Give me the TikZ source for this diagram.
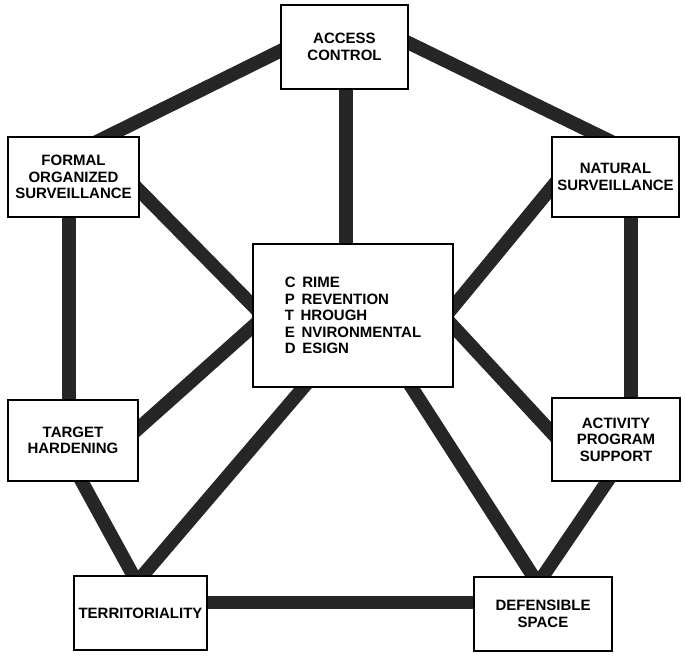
\documentclass[tikz,border=0pt]{standalone}
\usepackage{fontspec}
\setmainfont{Liberation Sans}
\usetikzlibrary{backgrounds}
\definecolor{barcol}{RGB}{38,38,38}
\tikzset{
  box/.style={draw=black, line width=1.8pt, fill=white, inner sep=0pt,
    align=center, font=\fontsize{15}{16.5}\selectfont\bfseries},
  bar/.style={draw=barcol, line width=13.5pt, shorten <=-14pt, shorten >=-14pt}
}
\begin{document}
\begin{tikzpicture}[x=1pt,y=-1pt]
\useasboundingbox (0,0) rectangle (685,657);
\node[box, minimum width=127pt, minimum height=84pt] (acc) at (344.5,47) {ACCESS\\CONTROL};
\node[box, minimum width=131pt, minimum height=80pt] (fos) at (73.5,177) {FORMAL\\ORGANIZED\\SURVEILLANCE};
\node[box, minimum width=127pt, minimum height=80pt] (nat) at (615.5,177) {NATURAL\\SURVEILLANCE};
\node[box, minimum width=200pt, minimum height=143pt, align=left] (cpt) at (353,315.5)
  {C\hspace{0.45em}RIME\\P\hspace{0.45em}REVENTION\\T\hspace{0.45em}HROUGH\\E\hspace{0.45em}NVIRONMENTAL\\D\hspace{0.45em}ESIGN};
\node[box, minimum width=130pt, minimum height=81pt] (tgt) at (73,440.5) {TARGET\\HARDENING};
\node[box, minimum width=128pt, minimum height=83pt] (act) at (616,439.5) {ACTIVITY\\PROGRAM\\SUPPORT};
\node[box, minimum width=133pt, minimum height=74pt] (ter) at (140.5,613) {TERRITORIALITY};
\node[box, minimum width=138pt, minimum height=74pt] (def) at (543,614) {DEFENSIBLE\\SPACE};
\begin{scope}[on background layer]
\draw[bar] ([yshift=-4pt]acc.west) -- ([xshift=34.5pt]fos.north);
\draw[bar] ([yshift=4pt]acc.east) -- ([xshift=-15.5pt]nat.north);
\draw[bar] ([xshift=1.5pt]acc.south) -- ([xshift=-7pt]cpt.north);
\draw[bar] ([yshift=-14pt]fos.east) -- ([yshift=10.5pt]cpt.west);
\draw[bar] ([yshift=-11pt]nat.west) -- ([yshift=9.5pt]cpt.east);
\draw[bar] ([yshift=-11.5pt]cpt.west) -- ([yshift=12.5pt]tgt.east);
\draw[bar] ([yshift=-11.5pt]cpt.east) -- ([yshift=7.5pt]act.west);
\draw[bar] ([xshift=-4.5pt]fos.south) -- ([xshift=-4pt]tgt.north);
\draw[bar] ([xshift=15.5pt]nat.south) -- ([xshift=15pt]act.north);
\draw[bar] ([xshift=-50pt]cpt.south) -- ([xshift=2.5pt]ter.north);
\draw[bar] ([xshift=59pt]cpt.south) -- ([xshift=-10pt]def.north);
\draw[bar] ([xshift=9pt]tgt.south) -- ([xshift=-7.5pt]ter.north);
\draw[bar] ([xshift=-9pt]act.south) -- (def.north);
\draw[bar] ([yshift=10.5pt]ter.east) -- ([yshift=11.5pt]def.west);
\end{scope}
\end{tikzpicture}
\end{document}
